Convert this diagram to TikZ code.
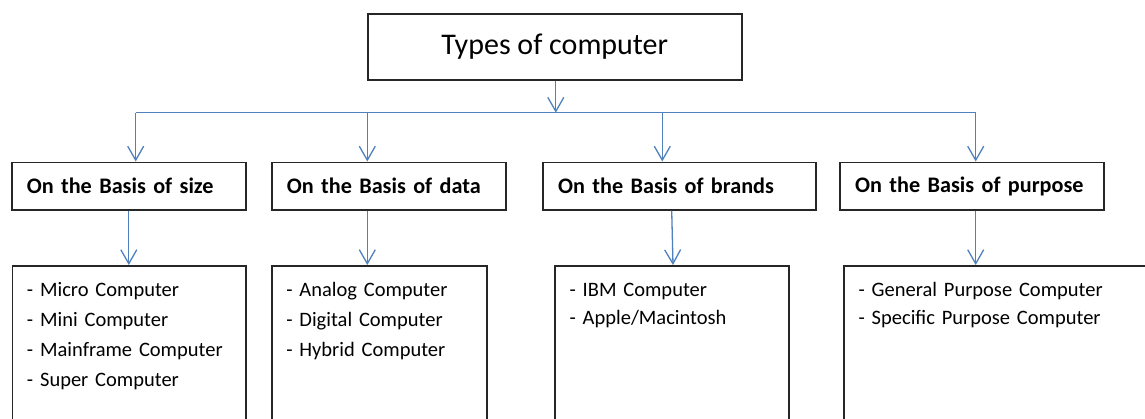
\documentclass[tikz,border=0pt]{standalone}
\usepackage{fontspec}
\setmainfont{Carlito}
\newfontfamily\catfamily{Carlito}[WordSpace=0.7]
\usetikzlibrary{arrows.meta}
\definecolor{connblue}{RGB}{79,129,189}
\definecolor{boxline}{RGB}{38,38,38}
\newcommand\catfontsetup{\catfamily\bfseries\fontsize{22.2}{28}\selectfont}
\begin{document}
\begin{tikzpicture}[x=1pt,y=-1pt,
  box/.style={draw=boxline, line width=1.6pt, rectangle, anchor=north west},
  titlebox/.style={box, minimum width=374pt, minimum height=66pt, inner sep=0pt,
    font=\fontsize{30}{36}\selectfont},
  catbox/.style={box, minimum height=47.5pt, inner xsep=15pt, inner ysep=0pt,
    text width=#1-30pt, align=left, font=\catfontsetup},
  listbox/.style={box, inner xsep=14.5pt, inner ysep=0pt, text width=#1-29pt,
    align=left, text height=30.5pt, text depth=220pt},
  listA/.style={font=\fontsize{20.5}{30}\selectfont},
  listB/.style={font=\fontsize{20.5}{28.3}\selectfont},
  link/.style={draw=connblue, line width=1.3pt},
  conn/.style={link, -{Straight Barb[length=14pt,width=16pt,line width=1.3pt]}}
]
\useasboundingbox (0,0) rectangle (1145,418);
\fill[white] (0,0) rectangle (1145,418);
\clip (0,0) rectangle (1145,418);

% title
\node[titlebox] (title) at (367,13) {Types of computer};

% category boxes
\node[catbox=234pt] (c1) at (11,161.5) {\mbox{On the Basis of size}};
\node[catbox=234pt] (c2) at (271,161.5) {\mbox{On the Basis of data}};
\node[catbox=273pt] (c3) at (542.3,161.5) {\mbox{On the Basis of brands}};
\node[catbox=264pt] (c4) at (839.3,161.5) {\mbox{On the Basis of purpose}};

% list boxes
\node[listbox=233.3pt, listA] (l1) at (11.7,265)
  {- Micro Computer\\- Mini Computer\\- Mainframe Computer\\- Super Computer};
\node[listbox=215pt, listA] (l2) at (271,265)
  {- Analog Computer\\- Digital Computer\\- Hybrid Computer};
\node[listbox=234pt, listB] (l3) at (554.3,265)
  {- IBM Computer\\- Apple/Macintosh};
\node[listbox=330pt, listB] (l4) at (843.3,265)
  {- General Purpose Computer\\- Specific Purpose Computer};

% branch points
\coordinate (b1) at (135.7,112.7);
\coordinate (b2) at (367.3,112.7);
\coordinate (b3) at (662.3,112.7);
\coordinate (b4) at (975.7,112.7);
\coordinate (d3a) at (671.7,0);
\coordinate (d3b) at (673,0);

% connectors
\draw[conn] ([xshift=1pt]title.south) -- ([xshift=1pt]title.south |- b1);
\draw[link] (b1) -- (b4);
\draw[conn] (b1) -- (b1 |- c1.north);
\draw[conn] (b2) -- (b2 |- c2.north);
\draw[conn] (b3) -- (b3 |- c3.north);
\draw[conn] (b4) -- (b4 |- c4.north);

\draw[conn] (c1.south) -- (c1.south |- l1.north);
\draw[conn] (b2 |- c2.south) -- (b2 |- l2.north);
\draw[conn] (d3a |- c3.south) -- (d3b |- l3.north);
\draw[conn] (b4 |- c4.south) -- (b4 |- l4.north);
\end{tikzpicture}
\end{document}
